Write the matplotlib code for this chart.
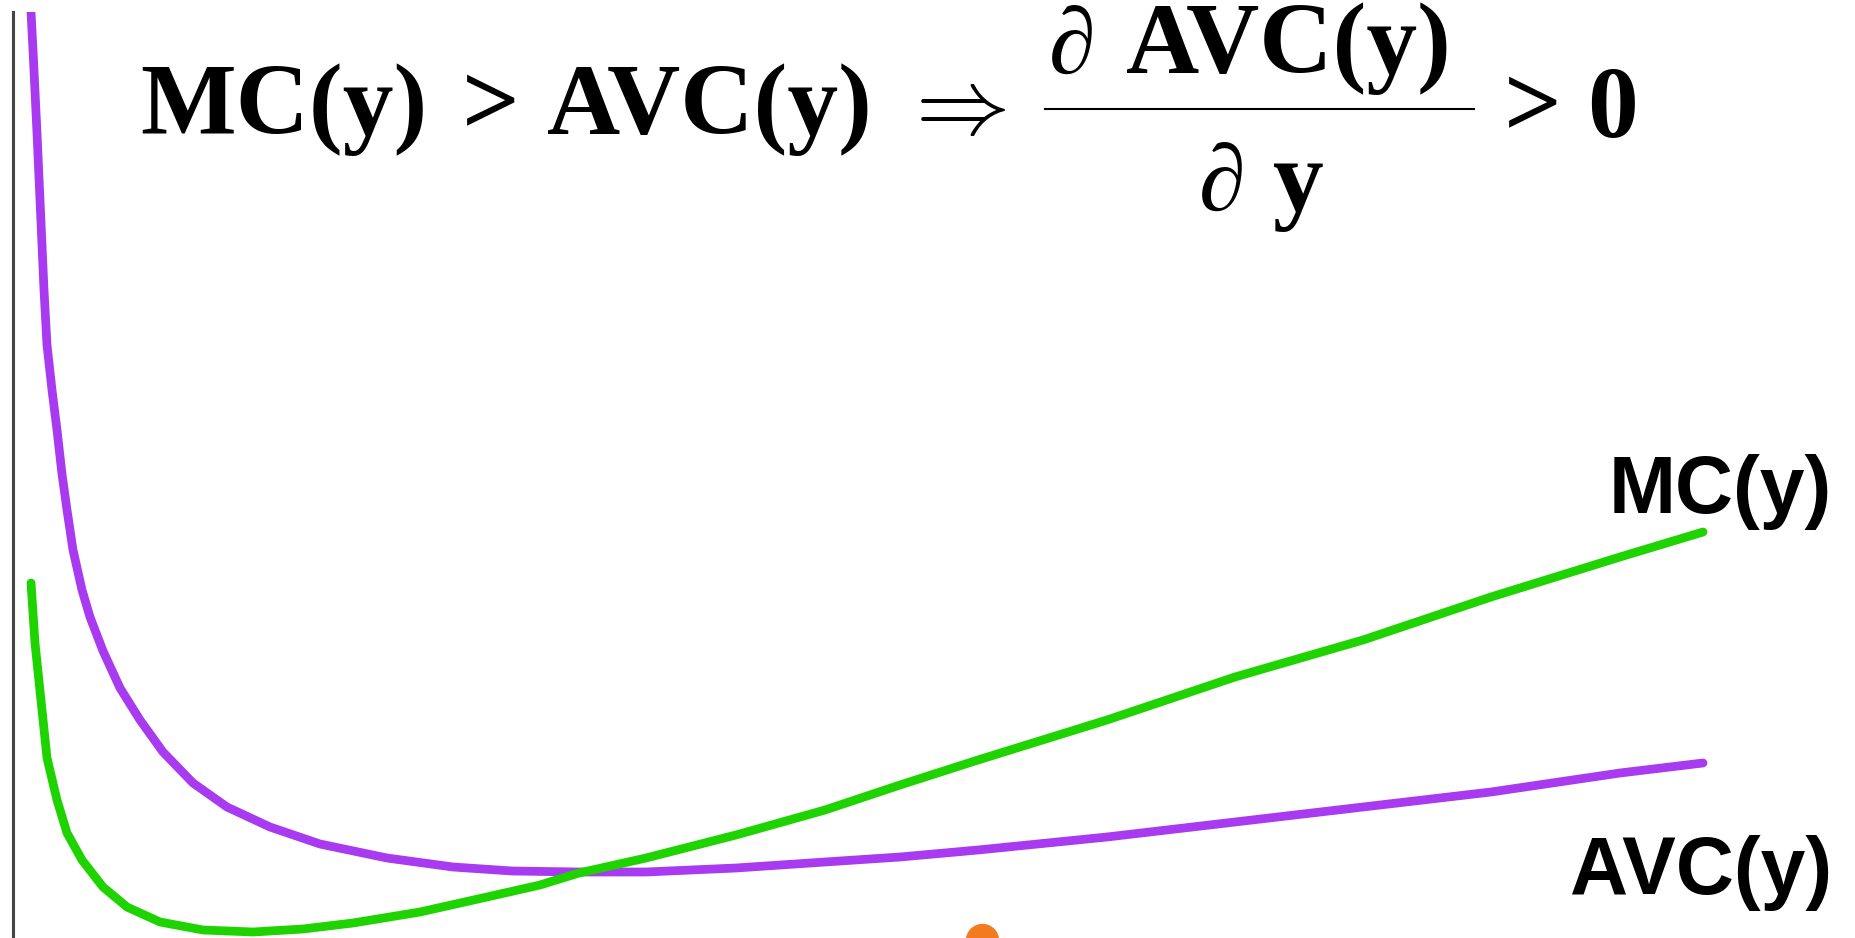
import matplotlib
matplotlib.use('Agg')
import matplotlib.pyplot as plt
from matplotlib.lines import Line2D

W, H = 1856, 938

#-----------------------------------
# curves (quantity y, cost)
#-----------------------------------
avc_q = [18, 20, 24, 27, 31, 34, 39, 44, 49, 54, 60, 69, 77, 90, 107, 127, 150, 180,
         214, 257, 307, 374, 440, 499, 566, 633, 723, 812, 887, 965, 1094, 1222,
         1350, 1478, 1607, 1690]
avc_c = [926, 888, 805, 738, 648, 593, 548, 508, 464, 428, 388, 348, 321, 287, 250, 218,
         186, 155, 131, 111, 94, 80, 71, 67, 66, 66, 70, 76, 81, 88, 101, 116,
         131, 146, 165, 175]

mc_q = [18, 22, 29, 34, 44, 54, 69, 90, 114, 147, 190, 240, 290, 340, 407, 474,
        527, 566, 633, 723, 812, 887, 965, 1094, 1222, 1350, 1478, 1607, 1690]
mc_c = [355, 295, 228, 180, 138, 105, 78, 51, 31, 16, 8, 6, 9, 15, 26, 41,
        53, 65, 80, 103, 128, 153, 178, 218, 261, 298, 341, 381, 406]

dot_q = [969]
dot_c = [-2]

purple = '#a83af0'
green = '#1ed300'

fig = plt.figure(figsize=(W / 100, H / 100), dpi=100)
ax = fig.add_axes([13 / W, 0, 1 - 13 / W, 926 / H])
ax.set_xlim(0, 1843)
ax.set_ylim(0, 926)

ax.plot(avc_q, avc_c, color=purple, lw=6.3, solid_capstyle='round', solid_joinstyle='round')
ax.plot(mc_q, mc_c, color=green, lw=6.3, solid_capstyle='round', solid_joinstyle='round')
ax.plot(dot_q, dot_c, 'o', color='#f47a20', ms=23, mec='#f47a20', clip_on=False)

for s in ['top', 'right', 'bottom']:
    ax.spines[s].set_visible(False)
ax.spines['left'].set_color('#444444')
ax.spines['left'].set_linewidth(2.2)
ax.set_xticks([])
ax.set_yticks([])

# curve labels
sans = dict(family='Liberation Sans', weight='bold', fontsize=58, color='black')
fig.text(1832 / W, 1 - 513 / H, 'MC(y)', ha='right', va='baseline', **sans)
fig.text(1832 / W, 1 - 894 / H, 'AVC(y)', ha='right', va='baseline', **sans)

# formula, piece by piece
serif = dict(family=['Liberation Serif', 'DejaVu Serif'], weight='bold', fontsize=73, color='black')
dee = dict(family='Liberation Serif', fontsize=68, color='black', style='italic')

def put(x, y, s, **kw):
    fig.text(x / W, 1 - y / H, s, ha='left', va='baseline', **kw)

put(140, 134, 'MC(y)', **serif)
put(462, 134, '>', **serif)
put(547, 134, 'AVC(y)', **serif)
put(899, 134, r'$\Rightarrow$', fontsize=68, math_fontfamily='cm', color='black')
put(1049, 73, '\u2202', **dee)
put(1126, 73, 'AVC(y)', **serif)
put(1199, 210, '\u2202', **dee)
put(1273, 210, 'y', **serif)
put(1504, 136, '>', **serif)
put(1587, 136, '0', **serif)
fig.add_artist(Line2D([1045 / W, 1474 / W], [1 - 109 / H, 1 - 109 / H],
                      color='black', lw=1.5, transform=fig.transFigure))

fig.savefig('out.png', dpi=100)
